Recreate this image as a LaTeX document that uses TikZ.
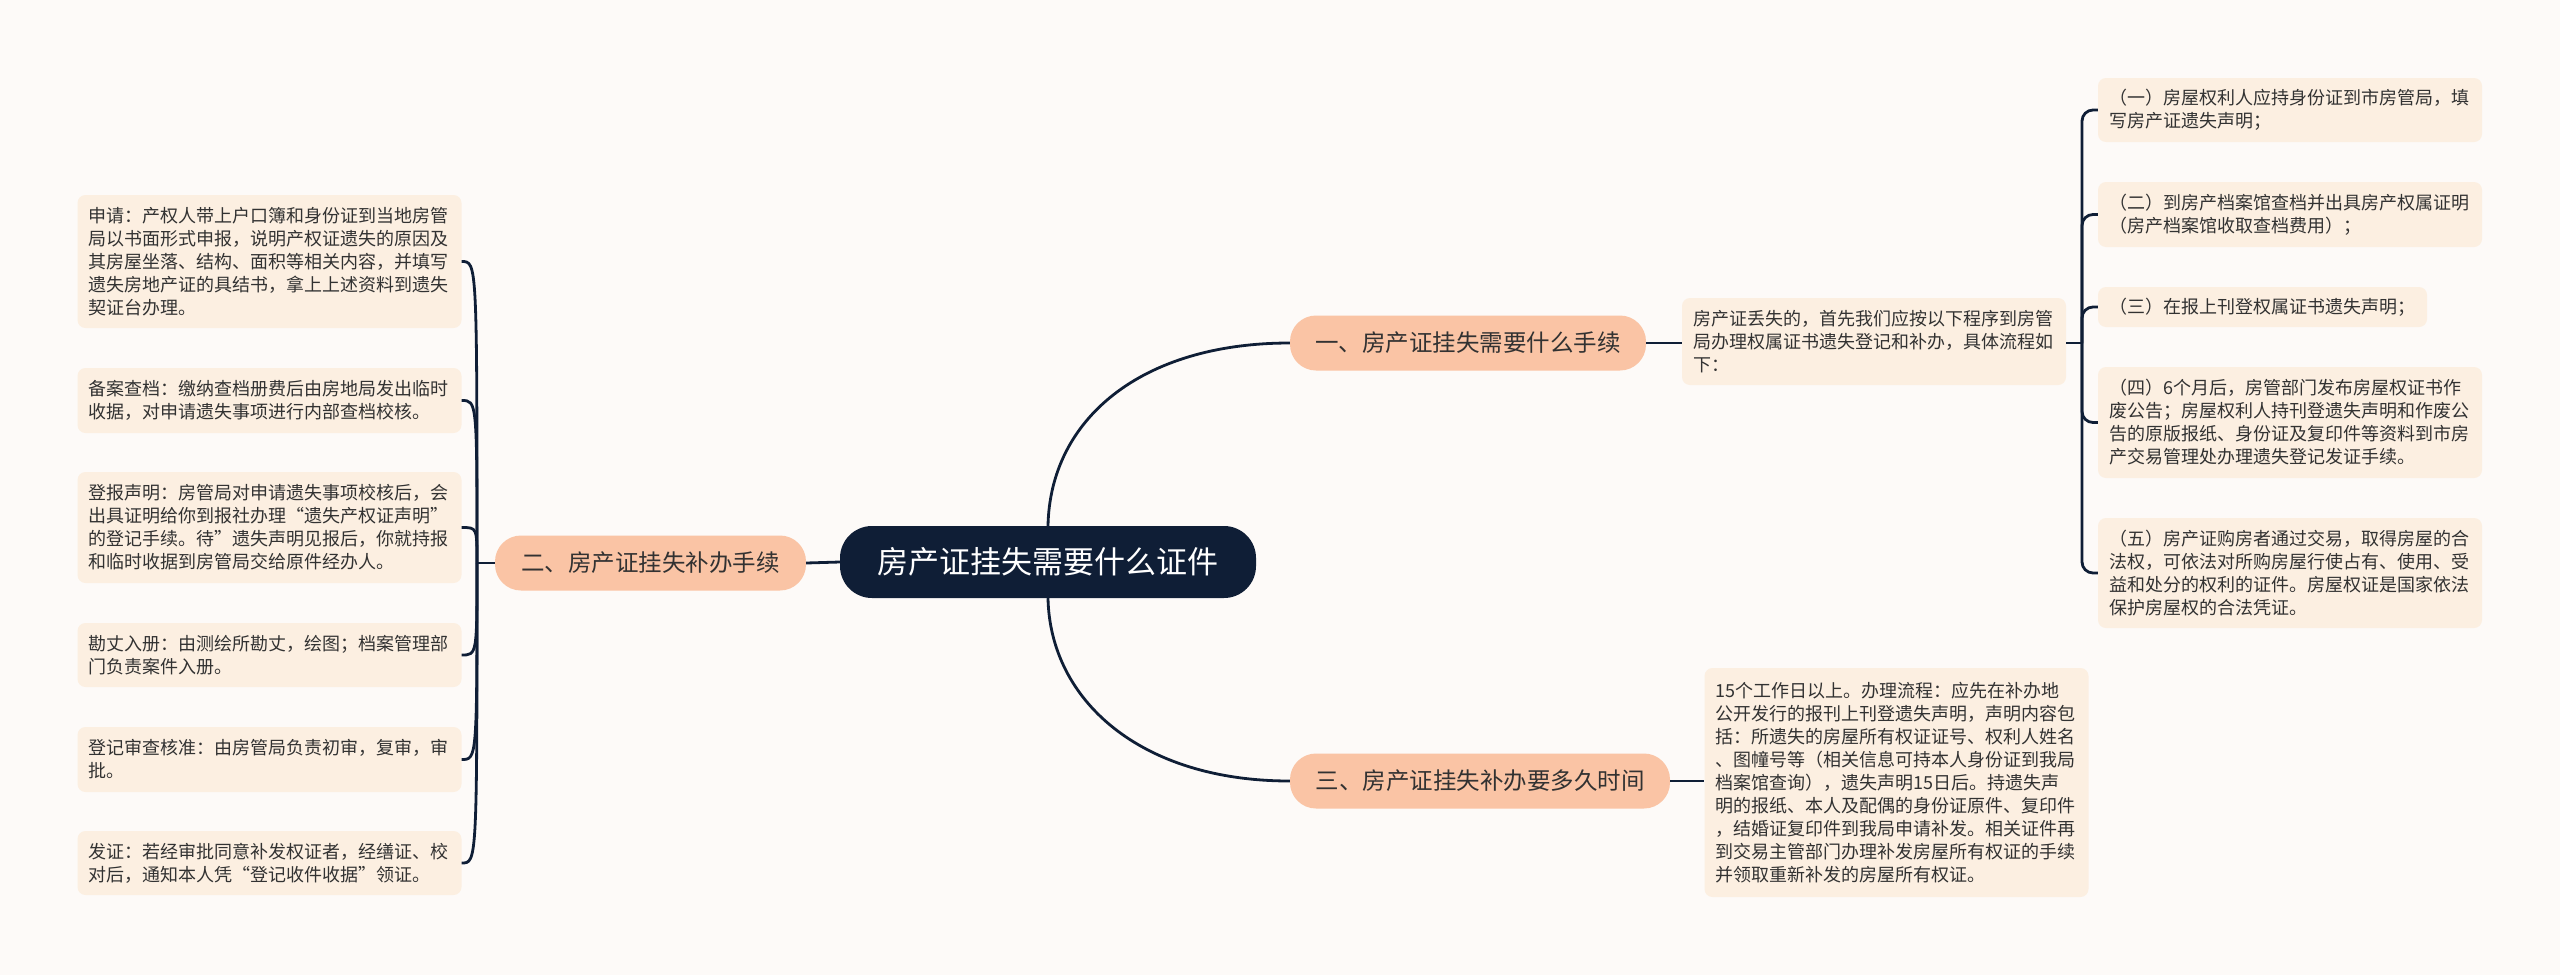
\documentclass[tikz,border=0pt]{standalone}
\usepackage{fontspec}
\newfontfamily\cjk{Noto Sans CJK SC}
\definecolor{bgc}{RGB}{253,250,248}
\definecolor{rootfill}{RGB}{15,30,54}
\definecolor{branchfill}{RGB}{250,196,165}
\definecolor{detailfill}{RGB}{252,239,225}
\definecolor{txt}{RGB}{50,50,50}
\definecolor{linec}{RGB}{15,30,54}
\begin{document}
\begin{tikzpicture}[x=1pt,y=-1pt,
  detail/.style={fill=detailfill, rounded corners=8pt, inner xsep=11pt, inner ysep=0pt,
    text width=362pt, align=left, anchor=center, text=txt,
    font=\cjk\fontsize{18}{23}\selectfont},
  branch/.style={fill=branchfill, rounded corners=26pt, minimum height=55pt, inner xsep=0pt,
    anchor=center, text=txt, font=\cjk\fontsize{23.5}{28}\selectfont},
  rootnode/.style={fill=rootfill, rounded corners=32pt, minimum width=416pt, minimum height=72pt,
    anchor=center, text=white, font=\cjk\fontsize{31}{36}\selectfont},
  link/.style={draw=linec, line width=2.8pt}
]
\fill[bgc] (0,0) rectangle (2560,975);
\path[use as bounding box] (0,0) rectangle (2560,975);

% root and branches
\node[rootnode] (root) at (1048,562) {房产证挂失需要什么证件};
\node[branch, minimum width=356pt] (b1) at (1468,343) {一、房产证挂失需要什么手续};
\node[branch, minimum width=311pt] (b2) at (650.5,563) {二、房产证挂失补办手续};
\node[branch, minimum width=380pt] (b3) at (1480,781) {三、房产证挂失补办要多久时间};

% branch 1 detail and children
\node[detail, minimum height=87pt] (d1) at (1874,341.5) {房产证丢失的，首先我们应按以下程序到房管\\局办理权属证书遗失登记和补办，具体流程如\\下：};
\node[detail, minimum height=64pt] (r1) at (2290,110) {（一）房屋权利人应持身份证到市房管局，填\\写房产证遗失声明；};
\node[detail, minimum height=65pt] (r2) at (2290,214.5) {（二）到房产档案馆查档并出具房产权属证明\\（房产档案馆收取查档费用）；};
\node[detail, minimum height=40pt, text width=307pt] (r3) at (2262.5,307) {（三）在报上刊登权属证书遗失声明；};
\node[detail, minimum height=111pt] (r4) at (2290,422.5) {（四）6个月后，房管部门发布房屋权证书作\\废公告；房屋权利人持刊登遗失声明和作废公\\告的原版报纸、身份证及复印件等资料到市房\\产交易管理处办理遗失登记发证手续。};
\node[detail, minimum height=110pt] (r5) at (2290,573) {（五）房产证购房者通过交易，取得房屋的合\\法权，可依法对所购房屋行使占有、使用、受\\益和处分的权利的证件。房屋权证是国家依法\\保护房屋权的合法凭证。};

% branch 3 detail
\node[detail, minimum height=229pt] (d3) at (1896.5,782.5) {15个工作日以上。办理流程：应先在补办地\\公开发行的报刊上刊登遗失声明，声明内容包\\括：所遗失的房屋所有权证证号、权利人姓名\\、图幢号等（相关信息可持本人身份证到我局\\档案馆查询），遗失声明15日后。持遗失声\\明的报纸、本人及配偶的身份证原件、复印件\\，结婚证复印件到我局申请补发。相关证件再\\到交易主管部门办理补发房屋所有权证的手续\\并领取重新补发的房屋所有权证。};

% branch 2 children
\node[detail, minimum height=133pt] (l1) at (269.5,261.5) {申请：产权人带上户口簿和身份证到当地房管\\局以书面形式申报，说明产权证遗失的原因及\\其房屋坐落、结构、面积等相关内容，并填写\\遗失房地产证的具结书，拿上上述资料到遗失\\契证台办理。};
\node[detail, minimum height=65pt] (l2) at (269.5,400.5) {备案查档：缴纳查档册费后由房地局发出临时\\收据，对申请遗失事项进行内部查档校核。};
\node[detail, minimum height=111pt] (l3) at (269.5,527.5) {登报声明：房管局对申请遗失事项校核后，会\\出具证明给你到报社办理“遗失产权证声明”\\的登记手续。待”遗失声明见报后，你就持报\\和临时收据到房管局交给原件经办人。};
\node[detail, minimum height=64pt] (l4) at (269.5,655) {勘丈入册：由测绘所勘丈，绘图；档案管理部\\门负责案件入册。};
\node[detail, minimum height=65pt] (l5) at (269.5,759.5) {登记审查核准：由房管局负责初审，复审，审\\批。};
\node[detail, minimum height=64pt] (l6) at (269.5,863) {发证：若经审批同意补发权证者，经缮证、校\\对后，通知本人凭“登记收件收据”领证。};

% connectors
\draw[link] (root.north) .. controls (1050,420) and (1140,343) .. (b1.west);
\draw[link] (root.south) .. controls (1050,700) and (1140,781) .. (b3.west);
\draw[link] (root.west) -- (b2.east);
\draw[link] (b1.east) -- (b1.east -| d1.west);
\draw[link] (b3.east) -- (b3.east -| d3.west);

\coordinate (hr) at (2082,343);
\draw[link] (d1.east |- hr) -- (hr);
\foreach \n in {r1,r2,r3,r4,r5}
  \draw[link, rounded corners=11pt] (hr) |- (\n.west);

\coordinate (hl) at (477,563);
\draw[link] (b2.west) -- (hl);
\foreach \n in {l1,l2,l3,l4,l5,l6}
  \draw[link] (hl) .. controls (hl |- \n.east) .. (\n.east);
\end{tikzpicture}
\end{document}
